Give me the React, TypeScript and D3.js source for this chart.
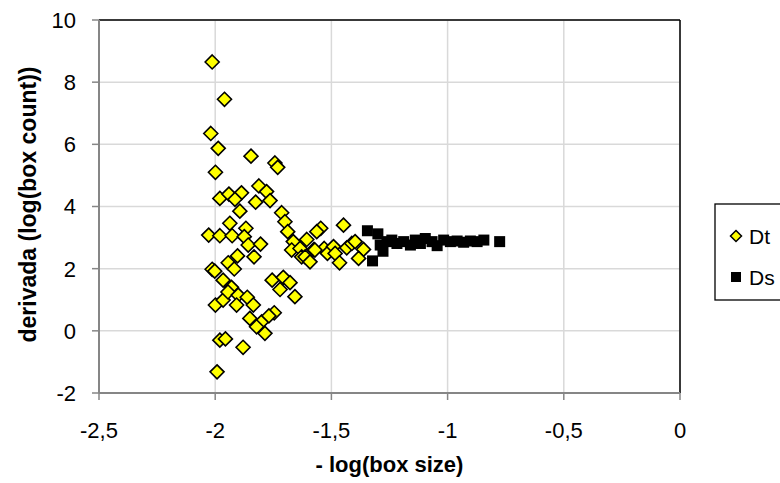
import React from "react";
import * as d3 from "d3";

const dtX = [-2.013,-1.96,-2.019,-1.987,-1.846,-1.743,-1.731,-1.999,-1.98,-1.941,-1.887,-1.915,-1.894,-1.812,-1.779,-1.826,-1.764,-1.714,-1.7,-1.688,-1.664,-1.671,-1.635,-1.628,-1.937,-1.868,-2.028,-1.98,-1.927,-1.875,-1.858,-1.805,-1.833,-1.904,-1.944,-1.918,-2.013,-2.002,-1.966,-1.93,-1.755,-1.707,-1.678,-1.721,-1.999,-1.966,-1.945,-1.901,-1.862,-1.908,-1.836,-1.657,-1.851,-1.8,-1.746,-1.769,-1.822,-1.786,-1.98,-1.956,-1.88,-1.992,-1.448,-1.546,-1.563,-1.606,-1.575,-1.613,-1.592,-1.531,-1.517,-1.491,-1.484,-1.465,-1.434,-1.412,-1.398,-1.362,-1.383,-1.571];
const dtY = [8.65,7.45,6.35,5.87,5.62,5.4,5.26,5.1,4.26,4.4,4.44,4.23,3.85,4.66,4.48,4.14,4.19,3.8,3.51,3.19,2.87,2.6,2.65,2.38,3.46,3.3,3.08,3.06,3.06,3.03,2.76,2.79,2.38,2.41,2.19,1.99,1.98,1.92,1.63,1.4,1.63,1.72,1.55,1.33,0.83,0.99,1.25,1.15,1.08,0.83,0.83,1.1,0.4,0.29,0.58,0.48,0.13,-0.08,-0.3,-0.26,-0.53,-1.32,3.4,3.3,3.19,2.94,2.62,2.38,2.22,2.65,2.49,2.71,2.49,2.19,2.67,2.81,2.87,2.62,2.33,2.6];

const dsX = [-1.345,-1.3,-1.323,-1.29,-1.278,-1.261,-1.24,-1.218,-1.189,-1.16,-1.139,-1.117,-1.096,-1.067,-1.045,-1.017,-0.988,-0.959,-0.931,-0.902,-0.873,-0.844,-0.776];
const dsY = [3.22,3.12,2.25,2.76,2.56,2.87,2.92,2.81,2.87,2.76,2.92,2.81,2.97,2.87,2.74,2.92,2.87,2.89,2.85,2.89,2.87,2.92,2.87];

const xTicks = [-2.5,-2,-1.5,-1,-0.5,0];
const yTicks = [-2,0,2,4,6,8,10];
const seriesNames = ["Dt","Ds"];

const fmt = (v: number) => String(v).replace(".", ",");

export default function App() {
  const L = 99, R = 680, T = 20, B = 393;
  const x = d3.scaleLinear().domain([-2.5, 0]).range([L, R]);
  const y = d3.scaleLinear().domain([-2, 10]).range([B, T]);
  const font = "'Liberation Sans', Arial, sans-serif";
  const diamond = (cx: number, cy: number, r: number) =>
    `M${cx},${cy - r}L${cx + r},${cy}L${cx},${cy + r}L${cx - r},${cy}Z`;
  const sq = 11;
  return (
    <svg width={780} height={483} style={{ position: "absolute", left: 0, top: 0, background: "#fff" }}>
      <rect x={0} y={0} width={780} height={483} fill="#fff" />
      {xTicks.map((t) => (
        <line key={"gx" + t} x1={x(t)} x2={x(t)} y1={T} y2={B} stroke="#d9d9d9" strokeWidth={1.5} />
      ))}
      {yTicks.map((t) => (
        <line key={"gy" + t} x1={L} x2={R} y1={y(t)} y2={y(t)} stroke="#d9d9d9" strokeWidth={1.5} />
      ))}
      <line x1={L} x2={R} y1={T} y2={T} stroke="#000" strokeWidth={1.5} />
      <line x1={R} x2={R} y1={T} y2={B} stroke="#000" strokeWidth={1.5} />
      <line x1={L} x2={L} y1={T} y2={B} stroke="#868686" strokeWidth={2} />
      <line x1={L} x2={R} y1={B} y2={B} stroke="#868686" strokeWidth={2} />
      {yTicks.map((t) => (
        <g key={"ty" + t}>
          <line x1={L - 7} x2={L} y1={y(t)} y2={y(t)} stroke="#868686" strokeWidth={1.5} />
          <text x={76} y={y(t)} dy="0.36em" textAnchor="end" fontFamily={font} fontSize={22} fill="#000">
            {fmt(t)}
          </text>
        </g>
      ))}
      {xTicks.map((t) => (
        <g key={"tx" + t}>
          <line x1={x(t)} x2={x(t)} y1={B} y2={B + 7} stroke="#868686" strokeWidth={1.5} />
          <text x={x(t)} y={438} textAnchor="middle" fontFamily={font} fontSize={22} fill="#000">
            {fmt(t)}
          </text>
        </g>
      ))}
      <text x={(L + R) / 2} y={472} textAnchor="middle" fontFamily={font} fontSize={22} fontWeight="bold">
        - log(box size)
      </text>
      <text transform={`translate(28,${(T + B) / 2 - 2}) rotate(-90)`} textAnchor="middle" dy="0.36em" fontFamily={font} fontSize={23} fontWeight="bold">
        derivada (log(box count))
      </text>
      {dsX.map((v, i) => (
        <rect key={"ds" + i} x={x(v) - sq / 2} y={y(dsY[i]) - sq / 2} width={sq} height={sq} fill="#000" />
      ))}
      {dtX.map((v, i) => (
        <path key={"dt" + i} d={diamond(x(v), y(dtY[i]), 7)} fill="#ffff00" stroke="#000" strokeWidth={1.6} />
      ))}
      <rect x={715} y={204} width={80} height={96} fill="#fff" stroke="#000" strokeWidth={1.3} />
      <path d={diamond(736, 236, 5.5)} fill="#ffff00" stroke="#000" strokeWidth={1.5} />
      <text x={749} y={236} dy="0.36em" fontFamily={font} fontSize={21}>{seriesNames[0]}</text>
      <rect x={731} y={272} width={10} height={10} fill="#000" />
      <text x={749} y={277} dy="0.36em" fontFamily={font} fontSize={21}>{seriesNames[1]}</text>
    </svg>
  );
}
